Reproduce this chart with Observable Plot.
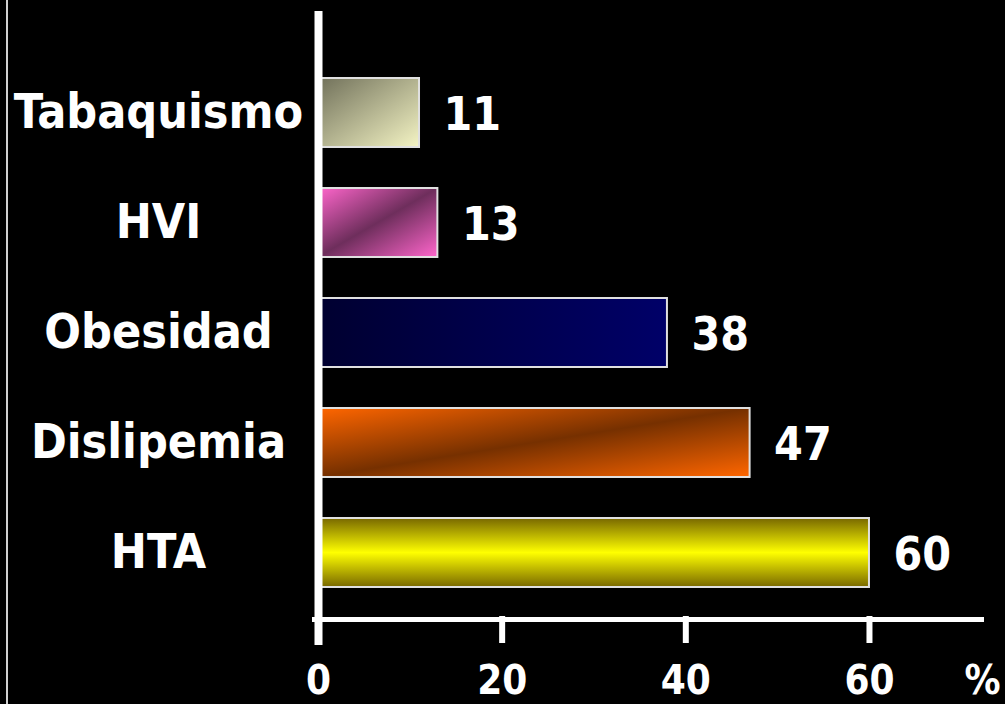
<!DOCTYPE html>
<html>
<head>
<meta charset="utf-8">
<script src="https://cdn.jsdelivr.net/npm/d3@7"></script>
<script src="https://cdn.jsdelivr.net/npm/@observablehq/plot@0.6"></script>
<style>
  html, body { margin: 0; padding: 0; background: #000; }
  #wrap { position: relative; width: 1005px; height: 704px; overflow: hidden; background: #000; }
  #edge { position: absolute; left: 6px; top: 0; width: 2px; height: 704px; background: #d0d0d0; }
</style>
</head>
<body>
<div id="wrap"><div id="edge"></div></div>
<script>
// ---- data ----
const categories = ["Tabaquismo", "HVI", "Obesidad", "Dislipemia", "HTA"];
const values = [11, 13, 38, 47, 60];
const xTicks = [0, 20, 40, 60];
const unitLabel = "%";

// ---- styles (gradients per category) ----
const gradientStyles = {
  Tabaquismo: {x2: 1, y2: 1, stops: [[0, "#70705a"], [1, "#f4f4c4"]]},
  HVI: {x2: 1, y2: 1, stops: [[0, "#ff66cc"], [0.5, "#6e2e5c"], [1, "#ff66cc"]]},
  Obesidad: {x2: 1, y2: 0, stops: [[0, "#000030"], [1, "#000068"]]},
  Dislipemia: {x2: 1, y2: 1, stops: [[0, "#ff6600"], [0.5, "#763000"], [1, "#ff6600"]]},
  HTA: {x2: 0, y2: 1, stops: [[0, "#786800"], [0.5, "#ffff00"], [1, "#786800"]]}
};

const table = categories.map((c, i) => ({category: c, value: values[i], grad: `url(#grad${i})`}));
const tickFont = "'DejaVu Sans Condensed', 'DejaVu Sans', sans-serif";

const chart = Plot.plot({
  width: 1005,
  height: 704,
  marginLeft: 318,
  marginRight: 24,
  marginTop: 76,
  marginBottom: 115,
  style: {background: "#000", color: "#fff", fontFamily: "'DejaVu Sans Condensed', 'DejaVu Sans', sans-serif", fontWeight: "bold"},
  x: {domain: [0, 72.2]},
  y: {domain: categories, paddingInner: 0.376, paddingOuter: 0},
  color: {type: "identity"},
  marks: [
    Plot.barX(table, {x: "value", y: "category", fill: "grad", stroke: "#e0e0e0", strokeWidth: 2}),
    Plot.ruleX([0], {stroke: "#fff", strokeWidth: 8, insetTop: -65, insetBottom: -56}),
    Plot.frame({anchor: "bottom", stroke: "#fff", strokeWidth: 5, insetBottom: -30, insetLeft: -4}),
    Plot.ruleX(xTicks.filter(t => t > 0), {stroke: "#fff", strokeWidth: 6, insetTop: 540, insetBottom: -54}),
    Plot.axisY({tickSize: 0, tickPadding: 160, textAnchor: "middle", fontSize: 48, fontWeight: "bold", label: null}),
    Plot.axisX({ticks: xTicks, tickSize: 0, tickPadding: 76, fontSize: 40, fontWeight: "bold",
      fontFamily: tickFont, label: null}),
    Plot.text(table, {x: "value", y: "category", text: d => String(d.value), textAnchor: "start", dx: 24, dy: 2,
      fontSize: 46, fontWeight: "bold", fill: "#fff"}),
    Plot.text([unitLabel], {frameAnchor: "bottom-right", text: d => d, textAnchor: "end", lineAnchor: "top",
      dx: 19, dy: 76, fontSize: 40, fontWeight: "bold", fill: "#fff", fontFamily: tickFont})
  ]
});

// attach gradient definitions
const svg = d3.select(chart.tagName.toLowerCase() === "svg" ? chart : chart.querySelector("svg"));
const defs = svg.insert("defs", ":first-child");
categories.forEach((c, i) => {
  const g = gradientStyles[c];
  const lg = defs.append("linearGradient").attr("id", `grad${i}`)
    .attr("x1", 0).attr("y1", 0).attr("x2", g.x2).attr("y2", g.y2);
  g.stops.forEach(([o, col]) => lg.append("stop").attr("offset", o).attr("stop-color", col));
});

document.getElementById("wrap").appendChild(chart);
</script>
</body>
</html>
